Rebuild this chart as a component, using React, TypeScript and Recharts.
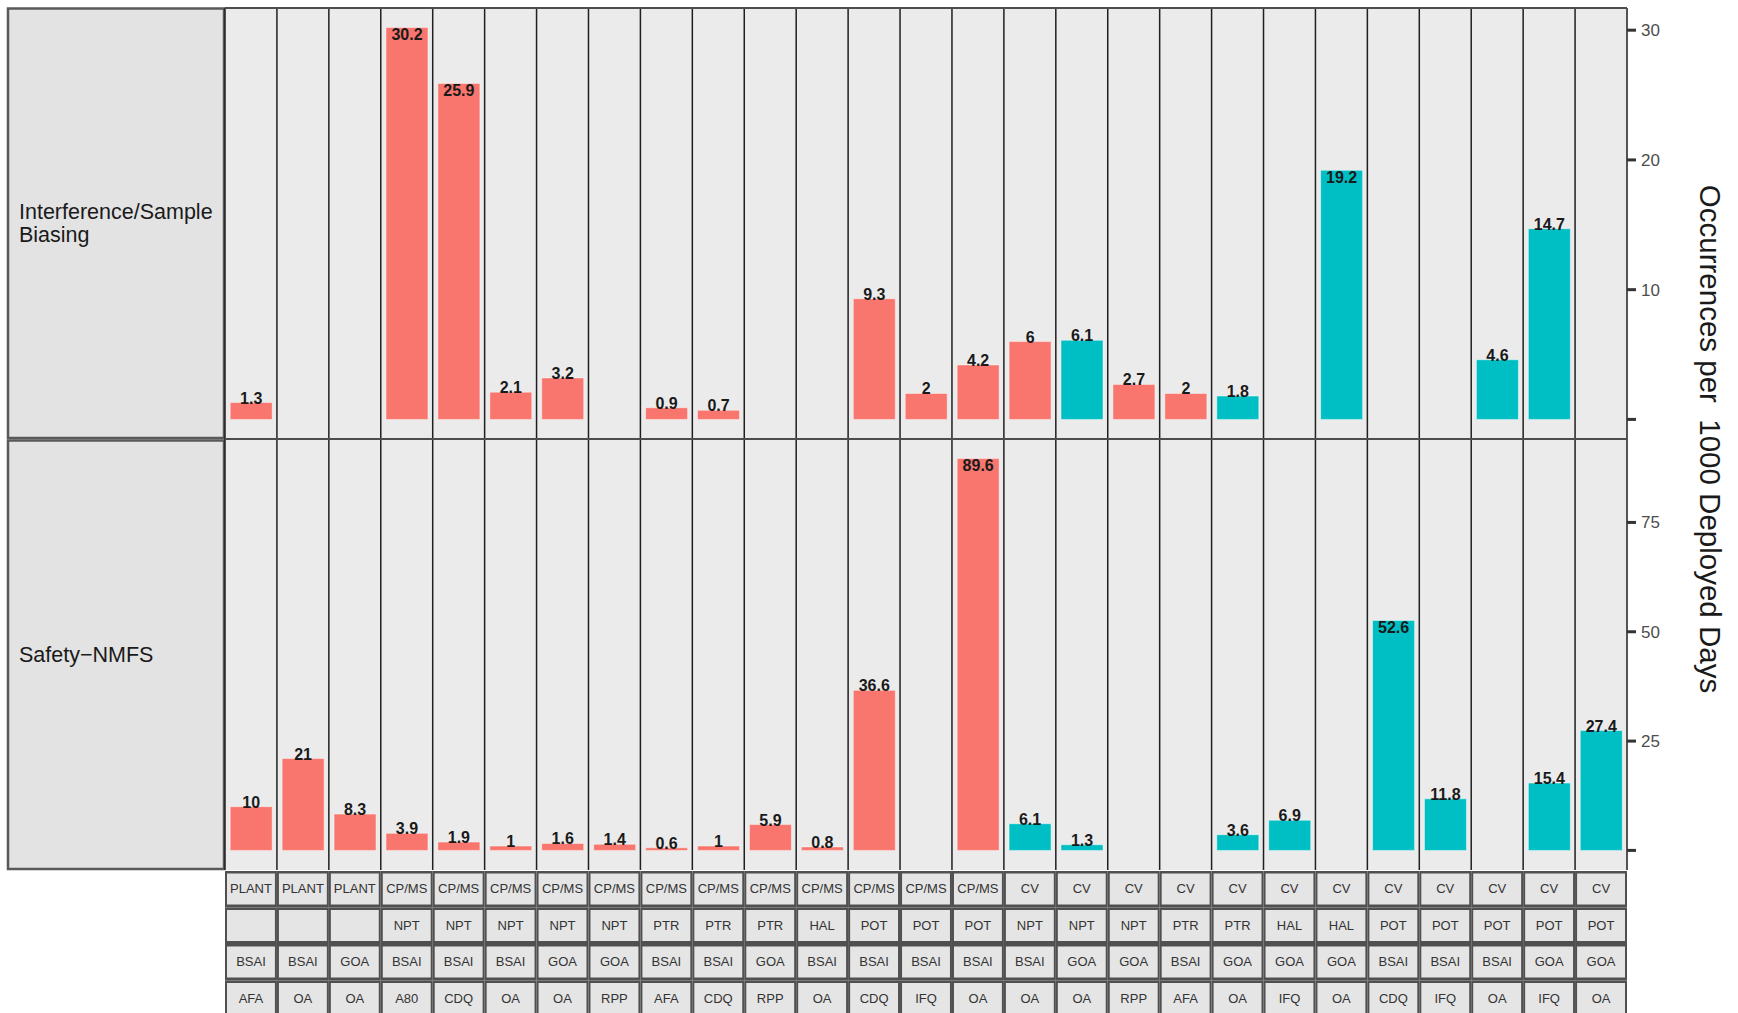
import React from 'react';
import { BarChart, Bar, XAxis, YAxis, Cell, ReferenceLine, CartesianGrid, LabelList } from 'recharts';

// ---------- data ----------
const sectors = ['PLANT', 'PLANT', 'PLANT', 'CP/MS', 'CP/MS', 'CP/MS', 'CP/MS', 'CP/MS', 'CP/MS', 'CP/MS', 'CP/MS', 'CP/MS', 'CP/MS', 'CP/MS', 'CP/MS', 'CV', 'CV', 'CV', 'CV', 'CV', 'CV', 'CV', 'CV', 'CV', 'CV', 'CV', 'CV'];
const gears = ['', '', '', 'NPT', 'NPT', 'NPT', 'NPT', 'NPT', 'PTR', 'PTR', 'PTR', 'HAL', 'POT', 'POT', 'POT', 'NPT', 'NPT', 'NPT', 'PTR', 'PTR', 'HAL', 'HAL', 'POT', 'POT', 'POT', 'POT', 'POT'];
const fmps = ['BSAI', 'BSAI', 'GOA', 'BSAI', 'BSAI', 'BSAI', 'GOA', 'GOA', 'BSAI', 'BSAI', 'GOA', 'BSAI', 'BSAI', 'BSAI', 'BSAI', 'BSAI', 'GOA', 'GOA', 'BSAI', 'GOA', 'GOA', 'GOA', 'BSAI', 'BSAI', 'BSAI', 'GOA', 'GOA'];
const programs = ['AFA', 'OA', 'OA', 'A80', 'CDQ', 'OA', 'OA', 'RPP', 'AFA', 'CDQ', 'RPP', 'OA', 'CDQ', 'IFQ', 'OA', 'OA', 'OA', 'RPP', 'AFA', 'OA', 'IFQ', 'OA', 'CDQ', 'IFQ', 'OA', 'IFQ', 'OA'];

const interferenceValues = [1.3, null, null, 30.2, 25.9, 2.1, 3.2, null, 0.9, 0.7, null, null, 9.3, 2, 4.2, 6, 6.1, 2.7, 2, 1.8, null, 19.2, null, null, 4.6, 14.7, null];
const interferenceGroups = ['A', null, null, 'A', 'A', 'A', 'A', null, 'A', 'A', null, null, 'A', 'A', 'A', 'A', 'B', 'A', 'A', 'B', null, 'B', null, null, 'B', 'B', null];

const safetyValues = [10, 21, 8.3, 3.9, 1.9, 1, 1.6, 1.4, 0.6, 1, 5.9, 0.8, 36.6, null, 89.6, 6.1, 1.3, null, null, 3.6, 6.9, null, 52.6, 11.8, null, 15.4, 27.4];
const safetyGroups = ['A', 'A', 'A', 'A', 'A', 'A', 'A', 'A', 'A', 'A', 'A', 'A', 'A', null, 'A', 'B', 'B', null, null, 'B', 'B', null, 'B', 'B', null, 'B', 'B'];

const interferenceTicks = [0, 10, 20, 30];
const safetyTicks = [0, 25, 50, 75];

const interferenceLabel = ['Interference/Sample', 'Biasing'];
const safetyLabel = ['Safety\u2212NMFS'];
const axisTitle = 'Occurrences per  1000 Deployed Days';

const groupColors: Record<string, string> = { A: '#F8766D', B: '#00BFC4' };

const categories = sectors.map((s, i) => `${s}|${gears[i]}|${fmps[i]}|${programs[i]}`);

// ---------- layout ----------
const W = 1738;
const H = 1013;
const PLOT_L = 225;
const PLOT_R = 1627;
const Y_AXIS_W = 60;
const MARGIN_R = W - PLOT_R - Y_AXIS_W;
const TOP_Y = 8;
const SPLIT = 439;
const PANEL_BOTTOM = 870;
const ROW_PITCH = 36.5;
const FONT = '"Liberation Sans", Arial, Helvetica, sans-serif';
const LINE = '#1f1f1f';

const makeValueLabel = (max: number) => (p: any) => {
  const v = p.value;
  if (v == null || v === '') return null;
  const vb = p.viewBox || {};
  const x = p.x ?? vb.x;
  const y = p.y ?? vb.y;
  const w = p.width ?? vb.width;
  if (x == null || y == null || w == null) return null;
  const inside = Number(v) > 0.55 * max;
  return (
    <text
      x={x + w / 2}
      y={inside ? y + 12.5 : y + 1}
      textAnchor="middle"
      fontSize={16}
      fontWeight="bold"
      fill="#1a1a1a"
      fontFamily={FONT}
    >
      {v}
    </text>
  );
};

const LabelGridTick = (props: any) => {
  const { x, y } = props;
  const index = props.index ?? props.payload?.index ?? 0;
  const colW = (PLOT_R - PLOT_L) / categories.length;
  const rows = [sectors, gears, fmps, programs];
  const left = x - colW / 2;
  return (
    <g>
      {rows.map((arr, r) => {
        const top = y + 1 + r * ROW_PITCH;
        return (
          <g key={r}>
            <rect x={left} y={top} width={colW} height={ROW_PITCH} fill="#505050" />
            <rect x={left + 2} y={top + 2.5} width={colW - 4} height={ROW_PITCH - 5.5} fill="#e5e5e5" />
            <text x={x} y={top + 22} textAnchor="middle" fontSize={13} fill="#333333" fontFamily={FONT}>
              {arr[index]}
            </text>
          </g>
        );
      })}
    </g>
  );
};

type PanelProps = {
  values: (number | null)[];
  groups: (string | null)[];
  ticks: number[];
  top: number;
  height: number;
  marginTop: number;
  showX: boolean;
};

function Panel({ values, groups, ticks, top, height, marginTop, showX }: PanelProps) {
  const max = Math.max(...(values.filter((v) => v != null) as number[]));
  const domain: [number, number] = [-0.05 * max, 1.05 * max];
  const data = categories.map((key, i) => ({ key, value: values[i] }));
  const last = categories[categories.length - 1];
  return (
    <div style={{ position: 'absolute', left: 0, top }}>
      <BarChart
        width={W}
        height={height}
        data={data}
        margin={{ top: marginTop, right: MARGIN_R, left: PLOT_L, bottom: 0 }}
        barCategoryGap="10%"
      >
        <CartesianGrid fill="#ebebeb" stroke="none" horizontal={false} vertical={false} />
        <XAxis
          dataKey="key"
          hide={!showX}
          interval={0}
          tickLine={false}
          axisLine={false}
          tickSize={0}
          tickMargin={0}
          height={H - PANEL_BOTTOM}
          tick={(p: any) => <LabelGridTick {...p} />}
        />
        <YAxis
          orientation="right"
          width={Y_AXIS_W}
          type="number"
          scale="linear"
          domain={domain}
          allowDataOverflow
          ticks={ticks}
          interval={0}
          tickFormatter={(v: number) => (v === 0 ? '' : String(v))}
          axisLine={false}
          tickSize={9}
          tickMargin={5}
          tickLine={{ stroke: '#333333', strokeWidth: 3 }}
          tick={{ fill: '#4d4d4d', fontSize: 17, fontFamily: FONT }}
        />
        {categories.map((c) => (
          <ReferenceLine key={c} x={c} position="start" stroke={LINE} strokeWidth={1.5} ifOverflow="visible" />
        ))}
        <ReferenceLine x={last} position="end" stroke={LINE} strokeWidth={1.5} ifOverflow="visible" />
        <ReferenceLine y={domain[1]} stroke="#4d4d4d" strokeWidth={1.8} ifOverflow="visible" />
        {!showX && <ReferenceLine y={domain[0]} stroke="#4d4d4d" strokeWidth={1.8} ifOverflow="visible" />}
        <Bar dataKey="value" isAnimationActive={false} stroke="#ffffff" strokeOpacity={0.45} strokeWidth={1}>
          {data.map((d, i) => (
            <Cell key={d.key} fill={groups[i] ? groupColors[groups[i] as string] : 'none'} />
          ))}
          <LabelList dataKey="value" content={makeValueLabel(max)} />
        </Bar>
      </BarChart>
    </div>
  );
}

function StripBox({ y0, y1, lines }: { y0: number; y1: number; lines: string[] }) {
  const cy = (y0 + y1) / 2;
  const lh = 23;
  const firstBase = cy - ((lines.length - 1) * lh) / 2 + 7.5;
  return (
    <g>
      <rect x={8} y={y0} width={216} height={y1 - y0} fill="#e3e3e3" stroke="#595959" strokeWidth={2.5} />
      {lines.map((t, i) => (
        <text key={i} x={19} y={firstBase + i * lh} fontSize={21.5} fill="#1a1a1a" fontFamily={FONT}>
          {t}
        </text>
      ))}
    </g>
  );
}

export default function App() {
  return (
    <div style={{ position: 'absolute', left: 0, top: 0, width: W, height: H, background: '#ffffff', fontFamily: FONT }}>
      <svg width={W} height={H} style={{ position: 'absolute', left: 0, top: 0 }}>
        <StripBox y0={8.5} y1={438} lines={interferenceLabel} />
        <StripBox y0={440.5} y1={869} lines={safetyLabel} />
        <text
          x={1700}
          y={(TOP_Y + PANEL_BOTTOM) / 2}
          transform={`rotate(90, 1700, ${(TOP_Y + PANEL_BOTTOM) / 2})`}
          textAnchor="middle"
          fontSize={29.5}
          fill="#1a1a1a"
          fontFamily={FONT}
          style={{ whiteSpace: 'pre' }}
        >
          {axisTitle}
        </text>
      </svg>
      <Panel
        values={interferenceValues}
        groups={interferenceGroups}
        ticks={interferenceTicks}
        top={0}
        height={SPLIT}
        marginTop={TOP_Y}
        showX={false}
      />
      <Panel
        values={safetyValues}
        groups={safetyGroups}
        ticks={safetyTicks}
        top={SPLIT}
        height={H - SPLIT}
        marginTop={0}
        showX={true}
      />
    </div>
  );
}
